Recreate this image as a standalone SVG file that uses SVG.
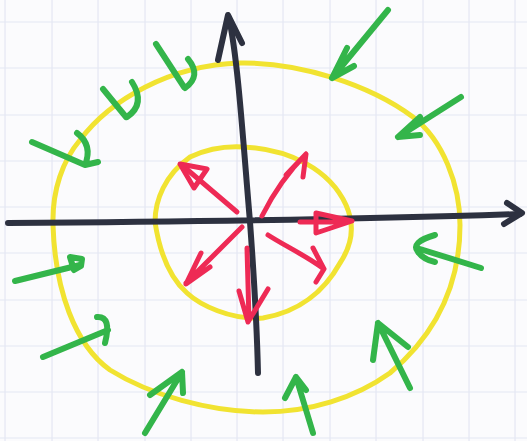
<svg xmlns="http://www.w3.org/2000/svg" width="527" height="441" viewBox="0 0 527 441">
<defs>
<style>
.grid{stroke:#e4e7f3;stroke-width:1.2;fill:none}
.yel{stroke:#f1e331;stroke-width:5;fill:none;stroke-linecap:round}
.blk{stroke:#2d3140;stroke-width:6;fill:none;stroke-linecap:round;stroke-linejoin:round}
.red{stroke:#ee2a55;stroke-width:5;fill:none;stroke-linecap:round;stroke-linejoin:round}
.grn{stroke:#33b54a;stroke-width:6;fill:none;stroke-linecap:round;stroke-linejoin:round}
</style>
</defs>
<rect width="527" height="441" fill="#fbfbfd"/>
<g id="grid" class="grid">
<path d="M5,0V441M52,0V441M98,0V441M145,0V441M191,0V441M237,0V441M283,0V441M330,0V441M376,0V441M423,0V441M469,0V441M515,0V441"/>
<path d="M0,22H527M0,68H527M0,115H527M0,161H527M0,207H527M0,253H527M0,300H527M0,346H527M0,392H527M0,438H527"/>
</g>
<g id="outer-circle">
<path class="yel" d="M240,63 C300,62 370,85 413,117 C443,140 460,185 460,225 C460,285 435,335 390,373 C355,398 310,412 263,412 C210,412 150,395 110,370 C75,345 55,290 53,225 C52,190 63,160 80,140 C110,100 170,65 240,63 Z"/>
</g>
<g id="inner-circle">
<path class="yel" d="M243,147 C290,149 330,170 346,205 C355,225 352,245 340,263 C325,290 300,312 263,318 C230,320 200,305 187,293 C170,278 160,255 155,222 C155,200 165,175 190,157 C205,150 225,146 243,147 Z"/>
</g>
<g id="axes">
<path class="blk" d="M8,223 C150,222 350,220 520,214"/>
<path class="blk" d="M507,203 L522,213 L504,224"/>
<path class="blk" d="M229,18 C238,60 243,140 250,222 C255,290 257,330 258,373"/>
<path class="blk" d="M218,60 L228,15 L242,43"/>
</g>
<g id="red-arrows">
<path class="red" d="M237,212 L183,166"/>
<path class="red" d="M207,169 L180,164 L194,188 Z"/>
<path class="red" d="M262,216 C272,196 288,172 306,154 M286,175 L306,154 L303,177"/>
<path class="red" d="M300,222 H345 M316,213 L352,221 L316,233 Z"/>
<path class="red" d="M268,235 C285,246 305,255 324,269 M313,248 L324,269 L316,282"/>
<path class="red" d="M242,227 L186,283 M201,253 L186,284 L210,267"/>
<path class="red" d="M247,248 L249,320 M239,291 L248,322 L268,289"/>
</g>
<g id="green-arrows">
<path id="g1" class="grn" d="M32,142 L85,165 M77,133 Q93,145 85,165 L98,162"/>
<path id="g2" class="grn" d="M103,89 L126,117 M132,82 Q146,104 127,117"/>
<path id="g3" class="grn" d="M156,44 L184,87 M188,59 Q202,76 185,88"/>
<path id="g4" class="grn" d="M388,10 L332,78 M347,48 L332,78 L354,66"/>
<path id="g5" class="grn" d="M461,97 L398,137 M420,117 L398,137 L420,135"/>
<path id="g6" class="grn" d="M481,268 L420,249 M435,235 Q410,242 418,252 Q424,260 435,262"/>
<path id="g7" class="grn" d="M410,388 L378,323 M373,360 L378,323 L408,347"/>
<path id="g8" class="grn" d="M313,433 L296,377 M285,398 L296,377 L306,390"/>
<path id="g9" class="grn" d="M15,281 L80,265 M70,257 L82,259 L81,266 L74,270 Z"/>
<path id="g10" class="grn" d="M43,357 L108,330 M97,317 Q112,316 105,343"/>
<path id="g11" class="grn" d="M145,433 L182,372 M150,395 L182,372 L183,393"/>
</g>
</svg>
